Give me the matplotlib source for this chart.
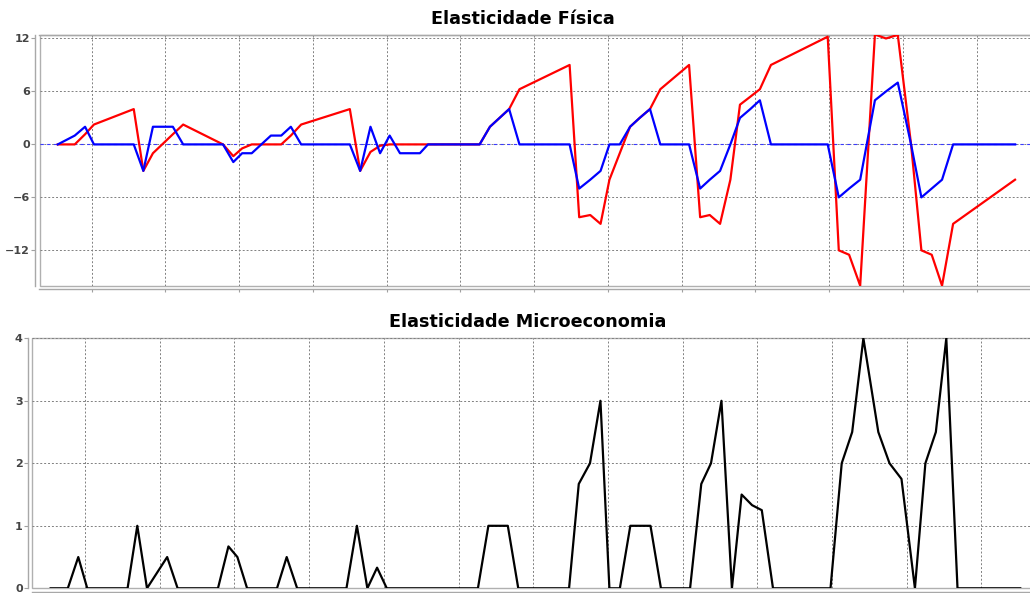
import matplotlib
matplotlib.use("Agg")
from matplotlib import pyplot as plt

# shared time axis (grid lines sit on whole units)
x = [-0.46, -0.23, -0.09, 0.03, 0.57, 0.70, 0.83, 1.10, 1.24, 1.78,
     1.92, 2.04, 2.17, 2.43, 2.57, 2.70, 2.84, 3.50, 3.64, 3.78,
     3.91, 4.04, 4.18, 4.45, 4.56, 5.26, 5.40, 5.53, 5.66, 5.80,
     6.48, 6.61, 6.76, 6.90, 7.02, 7.16, 7.30, 7.43, 7.57, 7.71,
     8.10, 8.25, 8.38, 8.52, 8.66, 8.79, 8.93, 9.06, 9.21, 9.98,
     10.13, 10.27, 10.42, 10.62, 10.77, 10.93, 11.11, 11.25, 11.39, 11.53,
     11.68, 12.52]

fisica_red = [0, 0, 1.15, 2.25, 4, -3, -1, 1.15, 2.25, 0,
              -1.33, -0.45, 0, 0, 0, 1, 2.25, 4, -3, -0.85,
              -0.15, 0, 0, 0, 0, 0, 2, 3, 4, 6.25,
              9, -8.25, -8, -9, -4, -1, 2, 3, 4, 6.25,
              9, -8.25, -8, -9, -4, 4.5, 5.4, 6.25, 9, 12.2,
              -12, -12.5, -16, 12.45, 12, 12.4, 0, -12, -12.5, -16,
              -9, -4]

fisica_blue = [0, 1, 2, 0, 0, -3, 2, 2, 0, 0,
               -2, -1, -1, 1, 1, 2, 0, 0, -3, 2,
               -1, 1, -1, -1, 0, 0, 2, 3, 4, 0,
               0, -5, -4, -3, 0, 0, 2, 3, 4, 0,
               0, -5, -4, -3, 0, 3, 4, 5, 0, 0,
               -6, -5, -4, 5, 6, 7, 0, -6, -5, -4,
               0, 0]

micro = [0, 0, 0.5, 0, 0, 1, 0, 0.5, 0, 0,
         0.67, 0.5, 0, 0, 0, 0.5, 0, 0, 1, 0,
         0.33, 0, 0, 0, 0, 0, 1, 1, 1, 0,
         0, 1.67, 2, 3, 0, 0, 1, 1, 1, 0,
         0, 1.67, 2, 3, 0, 1.5, 1.33, 1.25, 0, 0,
         2, 2.5, 4, 2.5, 2, 1.75, 0, 2, 2.5, 4,
         0, 0]

fisica_yticks = [-12, -6, 0, 6, 12]
micro_yticks = [0, 1, 2, 3, 4]

W, H = 1030, 593
fig = plt.figure(figsize=(W / 100, H / 100), dpi=100)


def style(ax, xlim, yticks, ylim, left_out, bottom_out):
    ax.set_xlim(*xlim)
    ax.set_ylim(*ylim)
    ax.set_xticks(range(0, 13))
    ax.set_yticks(yticks)
    ax.grid(True, color='#808080', linestyle=(0, (2, 2)), linewidth=0.7)
    ax.set_axisbelow(True)
    ax.patch.set_edgecolor('#b0b0b0')
    ax.patch.set_linewidth(1.0)
    for s in ['left', 'bottom', 'top', 'right']:
        ax.spines[s].set_color('#a8a8a8')
        ax.spines[s].set_linewidth(1.0)
    ax.spines['right'].set_visible(False)
    ax.spines['left'].set_position(('outward', left_out))
    ax.spines['bottom'].set_position(('outward', bottom_out))
    ax.tick_params(axis='x', length=2, color='#a0a0a0', labelbottom=False)
    ax.tick_params(axis='y', length=3, color='#a0a0a0', labelcolor='#444444',
                   labelsize=8, pad=1)
    for lbl in ax.get_yticklabels():
        lbl.set_fontweight('bold')


# top chart (plot area runs past the right edge of the image)
ax1 = fig.add_axes([39.5 / W, 1 - 286 / H, (1034 - 39.5) / W, (286 - 34.5) / H])
style(ax1, (-0.708, 12.777), fisica_yticks, (-16.04, 12.45), 3, 2.2)
ax1.axhline(0, color='#3a3aff', lw=0.8, ls=(0, (3, 3)), zorder=1.5)
ax1.plot(x, fisica_red, color='#ff0000', lw=1.6, zorder=3)
ax1.plot(x, fisica_blue, color='#0000ff', lw=1.6, zorder=4)

# bottom chart
ax2 = fig.add_axes([31.7 / W, 1 - 588.3 / H, (1034 - 31.7) / W, 250 / H])
style(ax2, (-0.7135, 12.704), micro_yticks, (0, 4), 2.4, 2.4)
ax2.spines['top'].set_visible(False)
ax2.plot(x, micro, color='black', lw=1.6, zorder=3)

fig.text(523 / W, 1 - 24 / H, 'Elasticidade Física', ha='center', va='baseline',
         fontweight='bold', fontsize=12.7)
fig.text(527.5 / W, 1 - 326.7 / H, 'Elasticidade Microeconomia', ha='center',
         va='baseline', fontweight='bold', fontsize=12.7)

fig.savefig('out.png', dpi=100)
